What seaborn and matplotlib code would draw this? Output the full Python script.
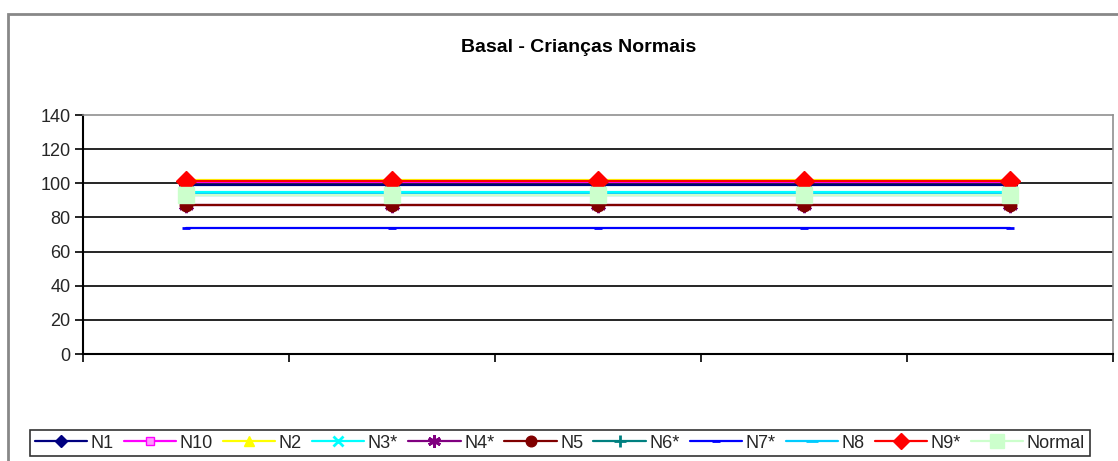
import matplotlib
matplotlib.use("Agg")
import matplotlib.pyplot as plt
from matplotlib.patches import Rectangle
from matplotlib.lines import Line2D
import seaborn as sns
import pandas as pd

# Readings per child at each of the five basal measurements
periods = [1, 2, 3, 4, 5]
series_names = ["N1", "N10", "N2", "N3*", "N4*", "N5", "N6*", "N7*", "N8", "N9*", "Normal"]
n1 = [99, 99, 99, 99, 99]
n10 = [101, 101, 101, 101, 101]
n2 = [102, 102, 102, 102, 102]
n3 = [95, 95, 95, 95, 95]
n4 = [87, 87, 87, 87, 87]
n5 = [87.5, 87.5, 87.5, 87.5, 87.5]
n6 = [93, 93, 93, 93, 93]
n7 = [74, 74, 74, 74, 74]
n8 = [94, 94, 94, 94, 94]
n9 = [101.5, 101.5, 101.5, 101.5, 101.5]
normal = [93, 93, 93, 93, 93]
series_values = [n1, n10, n2, n3, n4, n5, n6, n7, n8, n9, normal]
y_ticks = [0, 20, 40, 60, 80, 100, 120, 140]

df = pd.DataFrame(
    [(name, p, v) for name, vals in zip(series_names, series_values)
     for p, v in zip(periods, vals)],
    columns=["serie", "periodo", "valor"],
)

# Excel-like styling for each series: colour, marker, size, face colour
styles = {
    "N1": dict(color="#000080", marker="D", ms=7, mfc="#000080"),
    "N10": dict(color="#FF00FF", marker="s", ms=7, mfc="#FF99FF"),
    "N2": dict(color="#FFFF00", marker="^", ms=9, mfc="#FFFF00"),
    "N3*": dict(color="#00FFFF", marker="x", ms=9, mfc="#00FFFF"),
    "N4*": dict(color="#800080", marker=(6, 2, 0), ms=11, mfc="#800080"),
    "N5": dict(color="#800000", marker="o", ms=9, mfc="#800000"),
    "N6*": dict(color="#008080", marker="+", ms=11, mfc="#008080"),
    "N7*": dict(color="#0000FF", marker="_", ms=6, mfc="#0000FF"),
    "N8": dict(color="#00CCFF", marker="_", ms=10, mfc="#00CCFF"),
    "N9*": dict(color="#FF0000", marker="D", ms=10, mfc="#FF0000"),
    "Normal": dict(color="#CCFFCC", marker="s", ms=12, mfc="#CCFFCC"),
}
thin_markers = ("x", "+", "_", (6, 2, 0))

sns.set_theme(style="white")
plt.rcParams["font.family"] = ["Liberation Sans", "DejaVu Sans"]

fig = plt.figure(figsize=(11.18, 4.61), dpi=100)
ax = fig.add_axes([83 / 1118, 107 / 461, 1030 / 1118, 239 / 461])

for i, name in enumerate(series_names):
    st = styles[name]
    sub = df[df["serie"] == name]
    mew = 2.0 if st["marker"] in thin_markers else 1.0
    sns.lineplot(
        data=sub, x="periodo", y="valor", ax=ax, color=st["color"],
        marker=st["marker"], markersize=st["ms"], markerfacecolor=st["mfc"],
        markeredgecolor=st["color"], markeredgewidth=mew, linewidth=1.6,
        legend=False, zorder=3 + i,
    )

ax.set_xlim(0.5, 5.5)
ax.set_ylim(0, 140)
ax.set_yticks(y_ticks)
ax.set_yticklabels([str(t) for t in y_ticks], fontsize=13)
ax.set_xticks([0.5, 1.5, 2.5, 3.5, 4.5, 5.5])
ax.set_xticklabels([])
ax.set_xlabel("")
ax.set_ylabel("")
for y in y_ticks[1:-1]:
    ax.axhline(y, color="black", lw=1.2, zorder=1)
ax.tick_params(axis="both", direction="out", length=6, width=1.2, color="black",
               left=True, bottom=True, pad=3)
for side in ("top", "right"):
    ax.spines[side].set_color("#909090")
    ax.spines[side].set_linewidth(1.2)
for side in ("left", "bottom"):
    ax.spines[side].set_color("black")
    ax.spines[side].set_linewidth(1.5)

fig.text(0.518, 1 - 48 / 461, "Basal - Crianças Normais", ha="center", va="center",
         fontsize=14, fontweight="bold", color="black")

handles = []
for name in series_names:
    st = styles[name]
    mew = 2.0 if st["marker"] in thin_markers else 1.0
    handles.append(Line2D([0], [0], color=st["color"], lw=1.6, marker=st["marker"],
                          markersize=st["ms"] * 0.85, markerfacecolor=st["mfc"],
                          markeredgecolor=st["color"], markeredgewidth=mew))
leg = fig.legend(handles, series_names, loc="center", ncol=11,
                 bbox_to_anchor=(560 / 1118, 1 - 443 / 461), frameon=True,
                 fontsize=13, handlelength=2.9, handletextpad=0.2, columnspacing=0.55,
                 borderpad=0.25, borderaxespad=0, fancybox=False)
leg.get_frame().set_edgecolor("black")
leg.get_frame().set_linewidth(1.2)

# Grey border around the whole chart area
fig.patches.append(Rectangle((8 / 1118, -0.05), 1.2, 1 - 14 / 461 + 0.05,
                             transform=fig.transFigure, fill=False,
                             edgecolor="#888888", lw=2))

fig.savefig("out.png", dpi=100)
